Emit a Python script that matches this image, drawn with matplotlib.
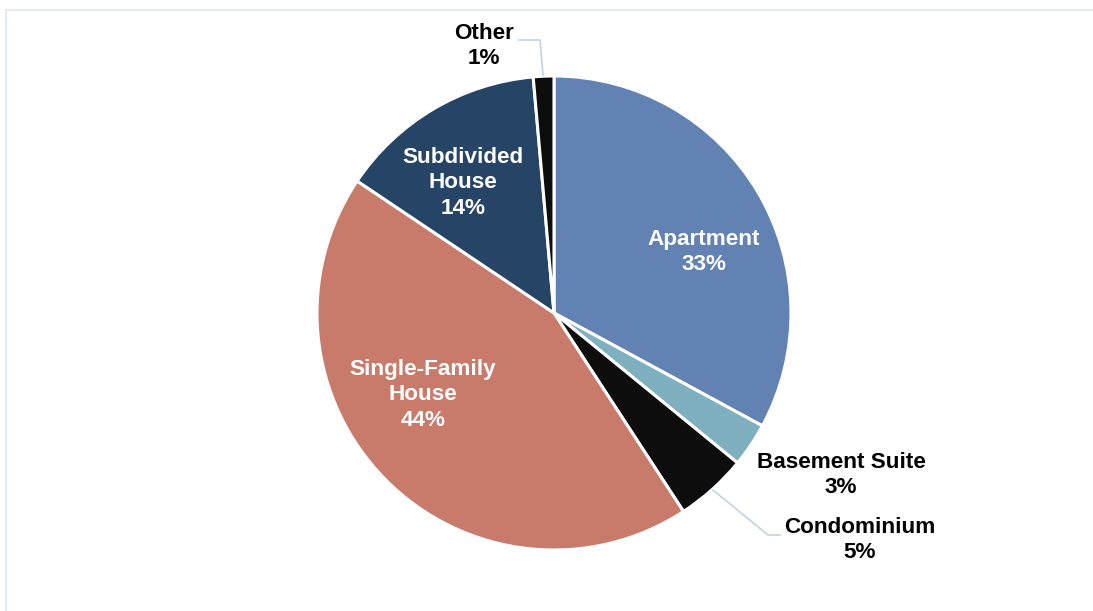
import matplotlib
matplotlib.use("Agg")
import matplotlib.pyplot as plt
from matplotlib.patches import Rectangle

categories = ["Apartment", "Basement Suite", "Condominium", "Single-Family\nHouse", "Subdivided\nHouse", "Other"]
shares = [32.9, 3.0, 4.9, 43.6, 14.2, 1.4]
pct_labels = ["33%", "3%", "5%", "44%", "14%", "1%"]
colors = ["#6282B3", "#7FB0C0", "#0D0D0D", "#C97B6B", "#264466", "#0D0D0D"]

plt.rcParams["font.family"] = ["Liberation Sans", "DejaVu Sans"]

W, H = 1093, 611
fig = plt.figure(figsize=(W / 100, H / 100), dpi=100)
ax = fig.add_axes([0, 0, 1, 1])

# outer frame (only top/left visible in the crop)
ax.add_patch(Rectangle((6, -20), W + 40, H - 10 + 20, fill=False, edgecolor="#E6EAF1", linewidth=1.6))

cx, cy, r = 554, H - 313, 237
ax.pie(shares, colors=colors, startangle=90, counterclock=False, center=(cx, cy), radius=r,
       wedgeprops=dict(edgecolor="white", linewidth=2.2), frame=True)
ax.set_xlim(0, W)
ax.set_ylim(0, H)
ax.set_aspect("equal")
ax.axis("off")

# label positions in pixel coords (x, y from top)
label_pos = [(704, 252), (841, 475), (860, 540), (423, 395), (463, 183), (484, 46)]
label_col = ["white", "black", "black", "white", "white", "black"]
for name, pct, (px, py), c in zip(categories, pct_labels, label_pos, label_col):
    ax.text(px, H - py, f"{name}\n{pct}", ha="center", va="center", color=c,
            fontsize=16.2, fontweight="bold", linespacing=1.3)

# leader lines
lc = "#C5D1E0"
ax.plot([543, 540, 519], [H - 75, H - 40, H - 40], color=lc, linewidth=1.2)
ax.plot([713, 768, 780], [H - 490, H - 535, H - 535], color=lc, linewidth=1.2)

fig.savefig("out.png", dpi=100)
